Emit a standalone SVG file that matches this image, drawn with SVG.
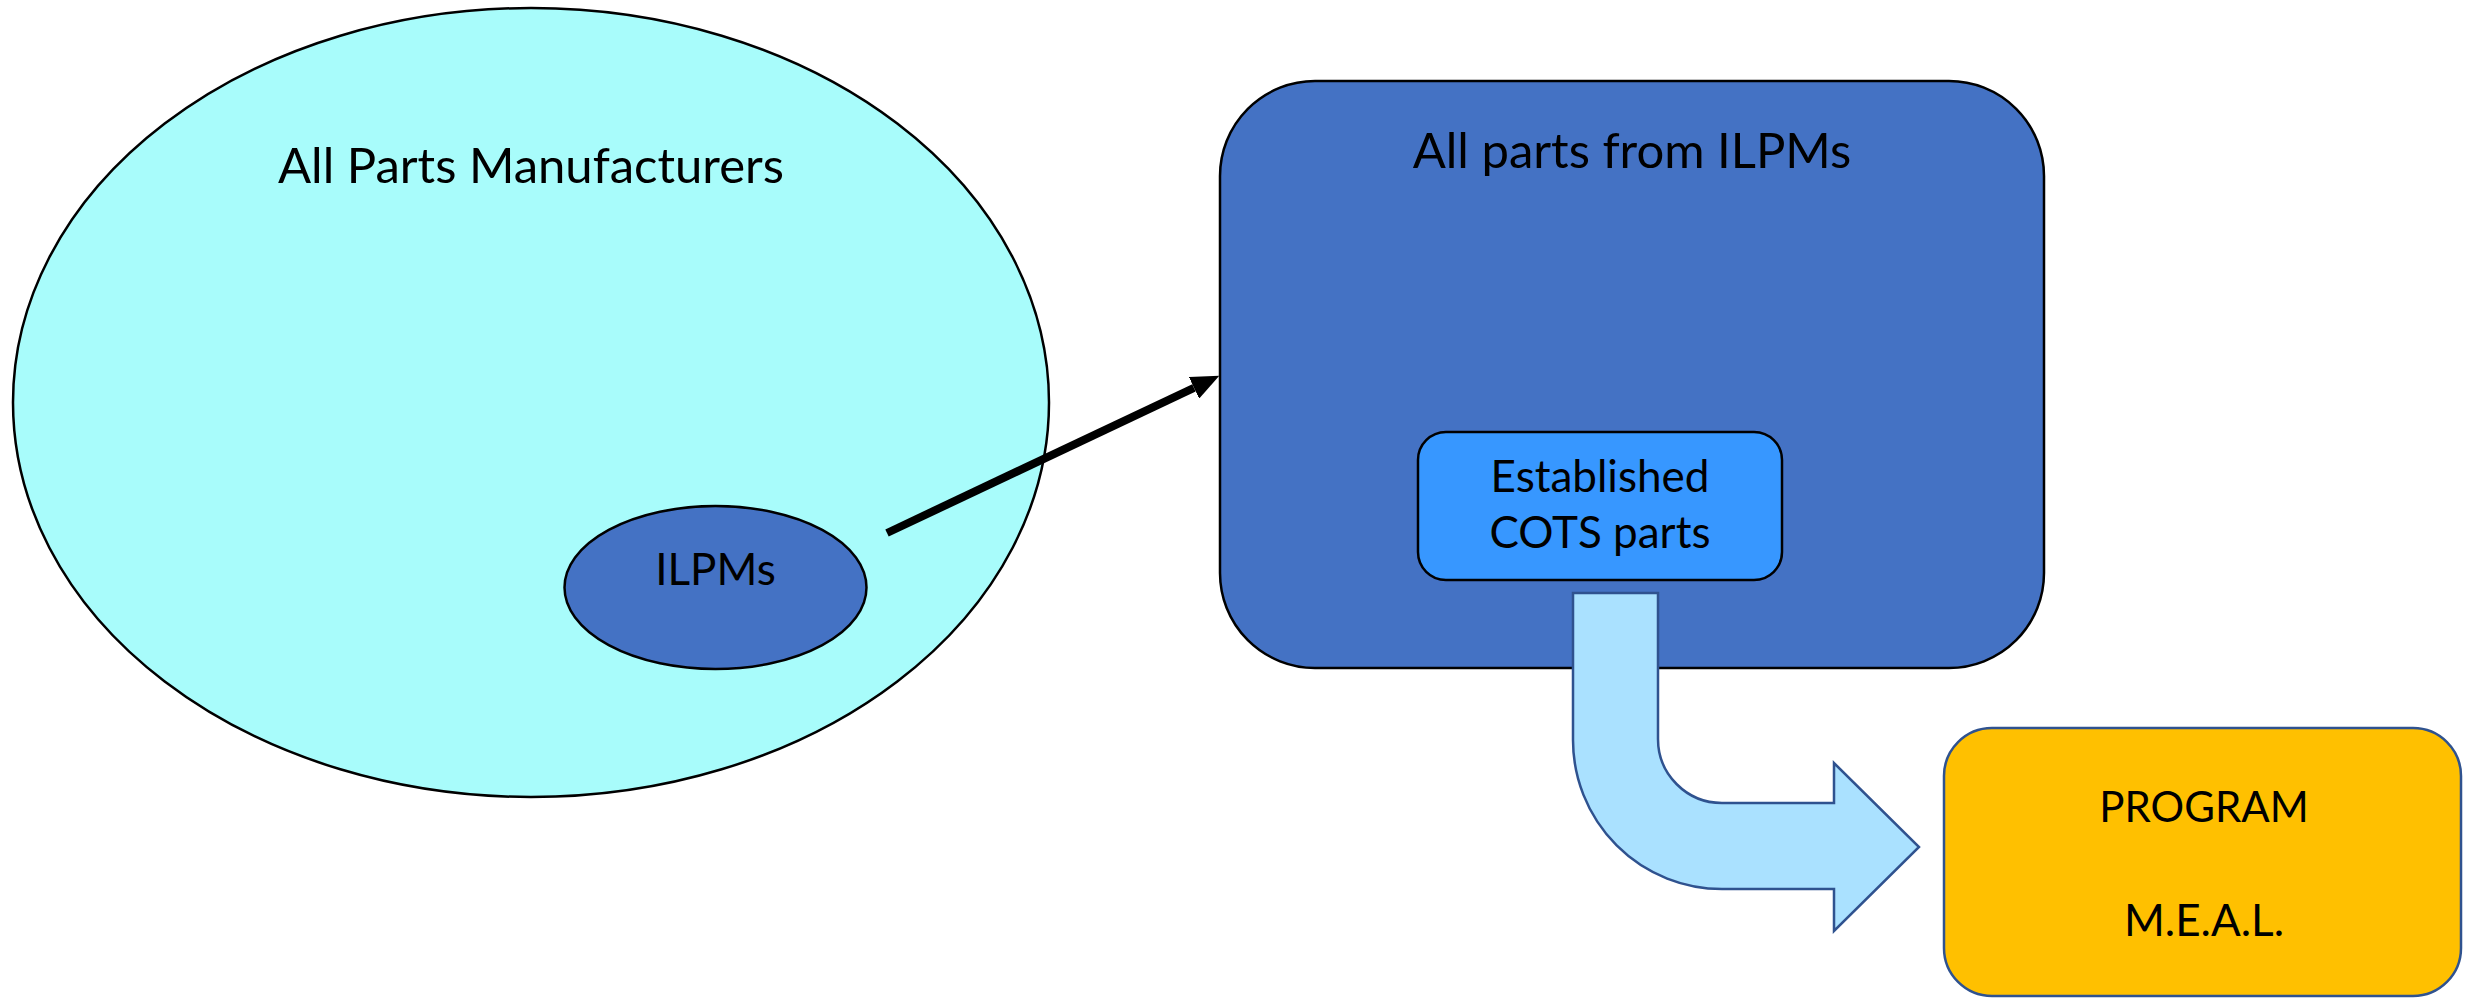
<svg xmlns="http://www.w3.org/2000/svg" width="2466" height="1001" viewBox="0 0 2466 1001">
<style>
  .lbl { font-family: Lato, "Liberation Sans", sans-serif; fill: #000; text-anchor: middle; }
  .xl { font-size: 49px; }
  .big { font-size: 44px; }
  .prog { font-size: 42px; }
  .blk { stroke: #000; stroke-width: 2.5; }
  .blu { stroke: #2F528F; stroke-width: 2.5; }
</style>
<defs>
  <marker id="head" viewBox="0 0 28 24" refX="0" refY="12" markerWidth="28" markerHeight="24" markerUnits="userSpaceOnUse" orient="auto">
    <path d="M0,0 L28,12 L0,24 Z" fill="#000"/>
  </marker>
</defs>
<rect width="2466" height="1001" fill="#fff"/>
<g id="all-manufacturers">
  <ellipse cx="531" cy="402.5" rx="518" ry="394.5" fill="#A8FCFB" class="blk"/>
  <text class="lbl xl" x="531" y="183">All Parts Manufacturers</text>
</g>
<g id="ilpms">
  <ellipse cx="715.5" cy="587.5" rx="151" ry="81.5" fill="#4472C4" class="blk"/>
  <text class="lbl big" x="715.5" y="585">ILPMs</text>
</g>
<g id="all-parts">
  <rect x="1220" y="81" width="824" height="587" rx="95" ry="95" fill="#4472C4" class="blk"/>
  <text class="lbl xl" x="1632" y="168">All parts from ILPMs</text>
</g>
<g id="cots">
  <rect x="1418" y="432" width="364" height="148" rx="28" ry="28" fill="#3797FF" class="blk"/>
  <text class="lbl big" x="1600" y="492">Established</text>
  <text class="lbl big" x="1600" y="548">COTS parts</text>
</g>
<g id="program">
  <rect x="1944" y="728" width="517" height="268" rx="48" ry="48" fill="#FFC000" class="blu"/>
  <text class="lbl prog" x="2204" y="822">PROGRAM</text>
  <text class="lbl big" x="2204" y="936">M.E.A.L.</text>
</g>
<g id="connectors">
  <line x1="887" y1="533" x2="1194" y2="387.8" stroke="#000" stroke-width="8" marker-end="url(#head)"/>
  <path d="M1573,593 L1658,593 L1658,739 A64,64 0 0 0 1722,803 L1834,803 L1834,763 L1919,847 L1834,931 L1834,889 L1722,889 A149,149 0 0 1 1573,740 Z" fill="#AAE1FF" class="blu" stroke-linejoin="miter"/>
</g>
</svg>
